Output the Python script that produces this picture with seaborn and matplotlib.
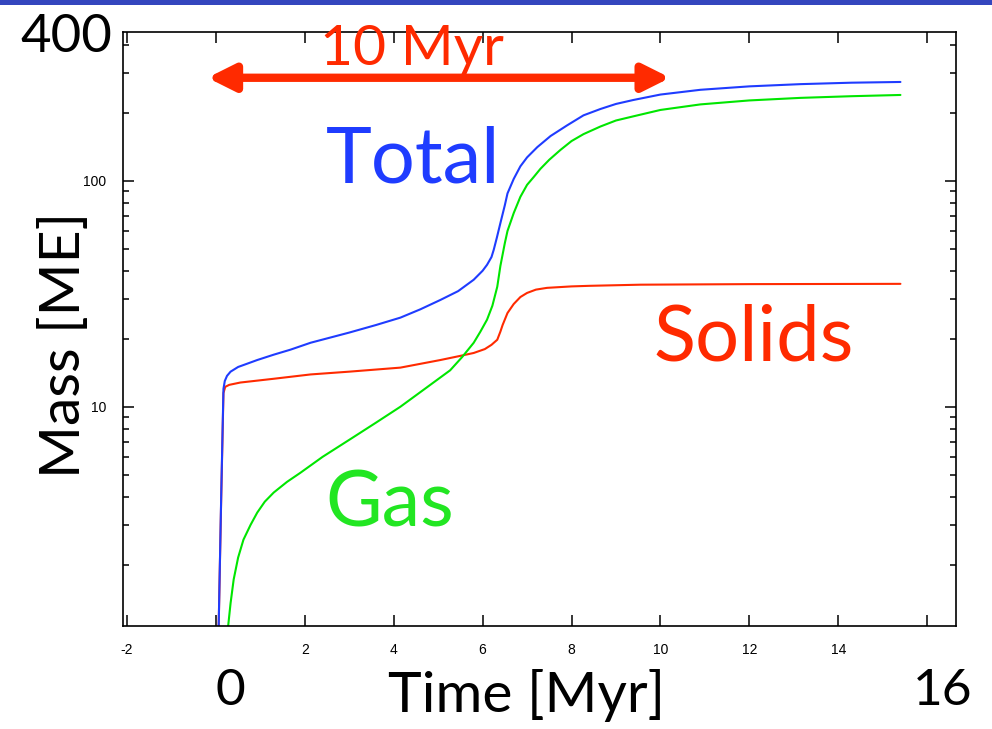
import matplotlib
matplotlib.use("Agg")
import matplotlib.pyplot as plt
from matplotlib.patches import Rectangle
from matplotlib.ticker import FixedLocator, LogLocator, NullFormatter
import numpy as np
import pandas as pd
import seaborn as sns

# Core-accretion growth of a giant planet: time [Myr] vs mass [Earth masses]
total_t = [0.05, 0.12, 0.17, 0.20, 0.25, 0.33, 0.5, 0.7, 0.93, 1.3, 1.68, 2.13, 3.0,
           3.6, 4.15, 4.6, 5.05, 5.45, 5.8, 6.0, 6.1, 6.2, 6.25, 6.32, 6.40, 6.50,
           6.56, 6.7, 6.85, 7.0, 7.23, 7.53, 7.9, 8.27, 8.65, 9.0, 9.39, 10.0, 10.9,
           12.0, 13.15, 14.3, 15.4]
total_m = [0.8, 4.1, 12.0, 13.0, 13.7, 14.3, 15.0, 15.5, 16.1, 17.0, 17.9, 19.2, 21.3,
           23.0, 24.8, 27.0, 29.7, 32.5, 36.5, 40.0, 42.5, 46.0, 49.5, 56, 65, 78,
           88, 102, 116, 127, 141, 158, 176, 195, 208, 219, 228, 241, 253,
           262, 268, 272, 274]

solids_t = [0.05, 0.12, 0.17, 0.21, 0.3, 0.55, 1.3, 2.13, 3.0, 4.15, 5.05, 5.5, 5.8,
            6.05, 6.2, 6.33, 6.40, 6.45, 6.56, 6.7, 6.85, 7.0, 7.2, 7.45, 8.0, 8.4,
            9.55, 12.0, 15.4]
solids_m = [0.8, 4.0, 11.5, 12.25, 12.5, 12.8, 13.3, 13.9, 14.3, 14.9, 16.1, 16.8, 17.3,
            18.0, 18.8, 19.8, 21.5, 23.0, 26.0, 28.5, 30.6, 31.9, 33.0, 33.6, 34.1, 34.3,
            34.7, 34.9, 35.0]

gas_t = [0.26, 0.33, 0.40, 0.5, 0.62, 0.78, 0.93, 1.1, 1.30, 1.6, 1.9, 2.4, 3.03,
         3.6, 4.15, 4.7, 5.27, 5.54, 5.8, 5.95, 6.1, 6.22, 6.33, 6.40, 6.50, 6.56,
         6.7, 6.85, 7.0, 7.15, 7.3, 7.5, 7.75, 8.0, 8.27, 8.65, 9.0, 9.39, 10.0, 10.9,
         12.0, 13.15, 14.3, 15.4]
gas_m = [1.0, 1.35, 1.72, 2.15, 2.58, 3.0, 3.40, 3.8, 4.17, 4.65, 5.1, 6.0, 7.2,
         8.5, 10.0, 12.0, 14.5, 16.6, 19.2, 21.5, 24.3, 28.0, 34.0, 42.0, 53.0, 60.0,
         72, 85, 96, 104, 113, 124, 137, 150, 161, 174, 185, 193, 206, 218,
         227, 233, 237, 240]

x_ticks = [-2, 0, 2, 4, 6, 8, 10, 12, 14, 16]
x_tick_labels = ["-2", "", "2", "4", "6", "8", "10", "12", "14", ""]
y_ticks = [10, 100]
y_tick_labels = ["10", "100"]

arrow_span = (-0.19, 10.22)
arrow_level = 286

df = pd.concat([
    pd.DataFrame({"time": solids_t, "mass": solids_m, "component": "Solids"}),
    pd.DataFrame({"time": gas_t, "mass": gas_m, "component": "Gas"}),
    pd.DataFrame({"time": total_t, "mass": total_m, "component": "Total"}),
], ignore_index=True)

RED = "#ff2a00"
GREEN = "#00e600"
BLUE = "#1f3cff"
palette = {"Solids": RED, "Gas": GREEN, "Total": BLUE}

sns.set_style("ticks")
plt.rcParams["font.family"] = ["Liberation Sans", "DejaVu Sans"]
plt.rcParams["lines.solid_joinstyle"] = "round"

W, H = 992, 729
fig = plt.figure(figsize=(W / 100, H / 100), dpi=100)
ax = fig.add_axes([123 / W, 1 - 626 / H, (956 - 123) / W, (626 - 32) / H])

sns.lineplot(data=df, x="time", y="mass", hue="component", palette=palette,
             hue_order=["Solids", "Gas", "Total"], estimator=None, sort=False,
             linewidth=1.5, legend=False, ax=ax)

ax.set_yscale("log")
ax.set_xlim(-2.09, 16.65)
ax.set_ylim(1.07, 456)

ax.xaxis.set_major_locator(FixedLocator(x_ticks))
ax.set_xticklabels(x_tick_labels)
ax.yaxis.set_major_locator(FixedLocator(y_ticks))
ax.set_yticklabels(y_tick_labels)
ax.yaxis.set_minor_locator(LogLocator(base=10, subs=np.arange(2, 10)))
ax.yaxis.set_minor_formatter(NullFormatter())

ax.tick_params(which="both", direction="in", top=True, right=True, color="black",
               width=1.1, labelsize=10, labelcolor="black")
ax.tick_params(which="major", length=8)
ax.tick_params(which="minor", length=4)
ax.tick_params(axis="x", pad=12)
ax.tick_params(axis="y", pad=12)
for s in ax.spines.values():
    s.set_color("black")
    s.set_linewidth(1.2)
ax.set_xlabel("")
ax.set_ylabel("")

big = ["Lato", "DejaVu Sans"]

# Red double-headed arrow marking the 10 Myr span
ax.annotate("", xy=(arrow_span[1], arrow_level), xytext=(arrow_span[0], arrow_level),
            arrowprops=dict(arrowstyle="<|-|>,head_length=1.6,head_width=0.8",
                            color=RED, lw=6, shrinkA=0, shrinkB=0), zorder=5)
ax.text(4.40, 326, "10 Myr", color=RED, fontsize=41, family=big,
        ha="center", va="baseline", zorder=6)

ax.text(4.44, 98, "Total", color=BLUE, fontsize=56, family=big, ha="center", va="baseline")
ax.text(12.09, 16.0, "Solids", color=RED, fontsize=56, family=big, ha="center", va="baseline")
ax.text(3.92, 2.94, "Gas", color="#22e622", fontsize=56, family=big, ha="center", va="baseline")


def ftext(px, py, s, **kw):
    fig.text(px / W, 1 - py / H, s, family=big, color="black", **kw)


ftext(66, 52, "400", fontsize=38, ha="center", va="baseline")
ftext(230, 705, "0", fontsize=37, ha="center", va="baseline")
ftext(943, 705, "16", fontsize=37, ha="center", va="baseline")
ftext(527, 712, "Time [Myr]", fontsize=41, ha="center", va="baseline")
ftext(80, 345, "Mass [ME]", fontsize=41, ha="center", va="baseline",
      rotation=90, rotation_mode="anchor")

# Header band across the top edge
fig.add_artist(Rectangle((0, 1 - 5 / H), 1, 5 / H, transform=fig.transFigure,
                         color="#3446be", lw=0))

fig.savefig("out.png", dpi=100)
